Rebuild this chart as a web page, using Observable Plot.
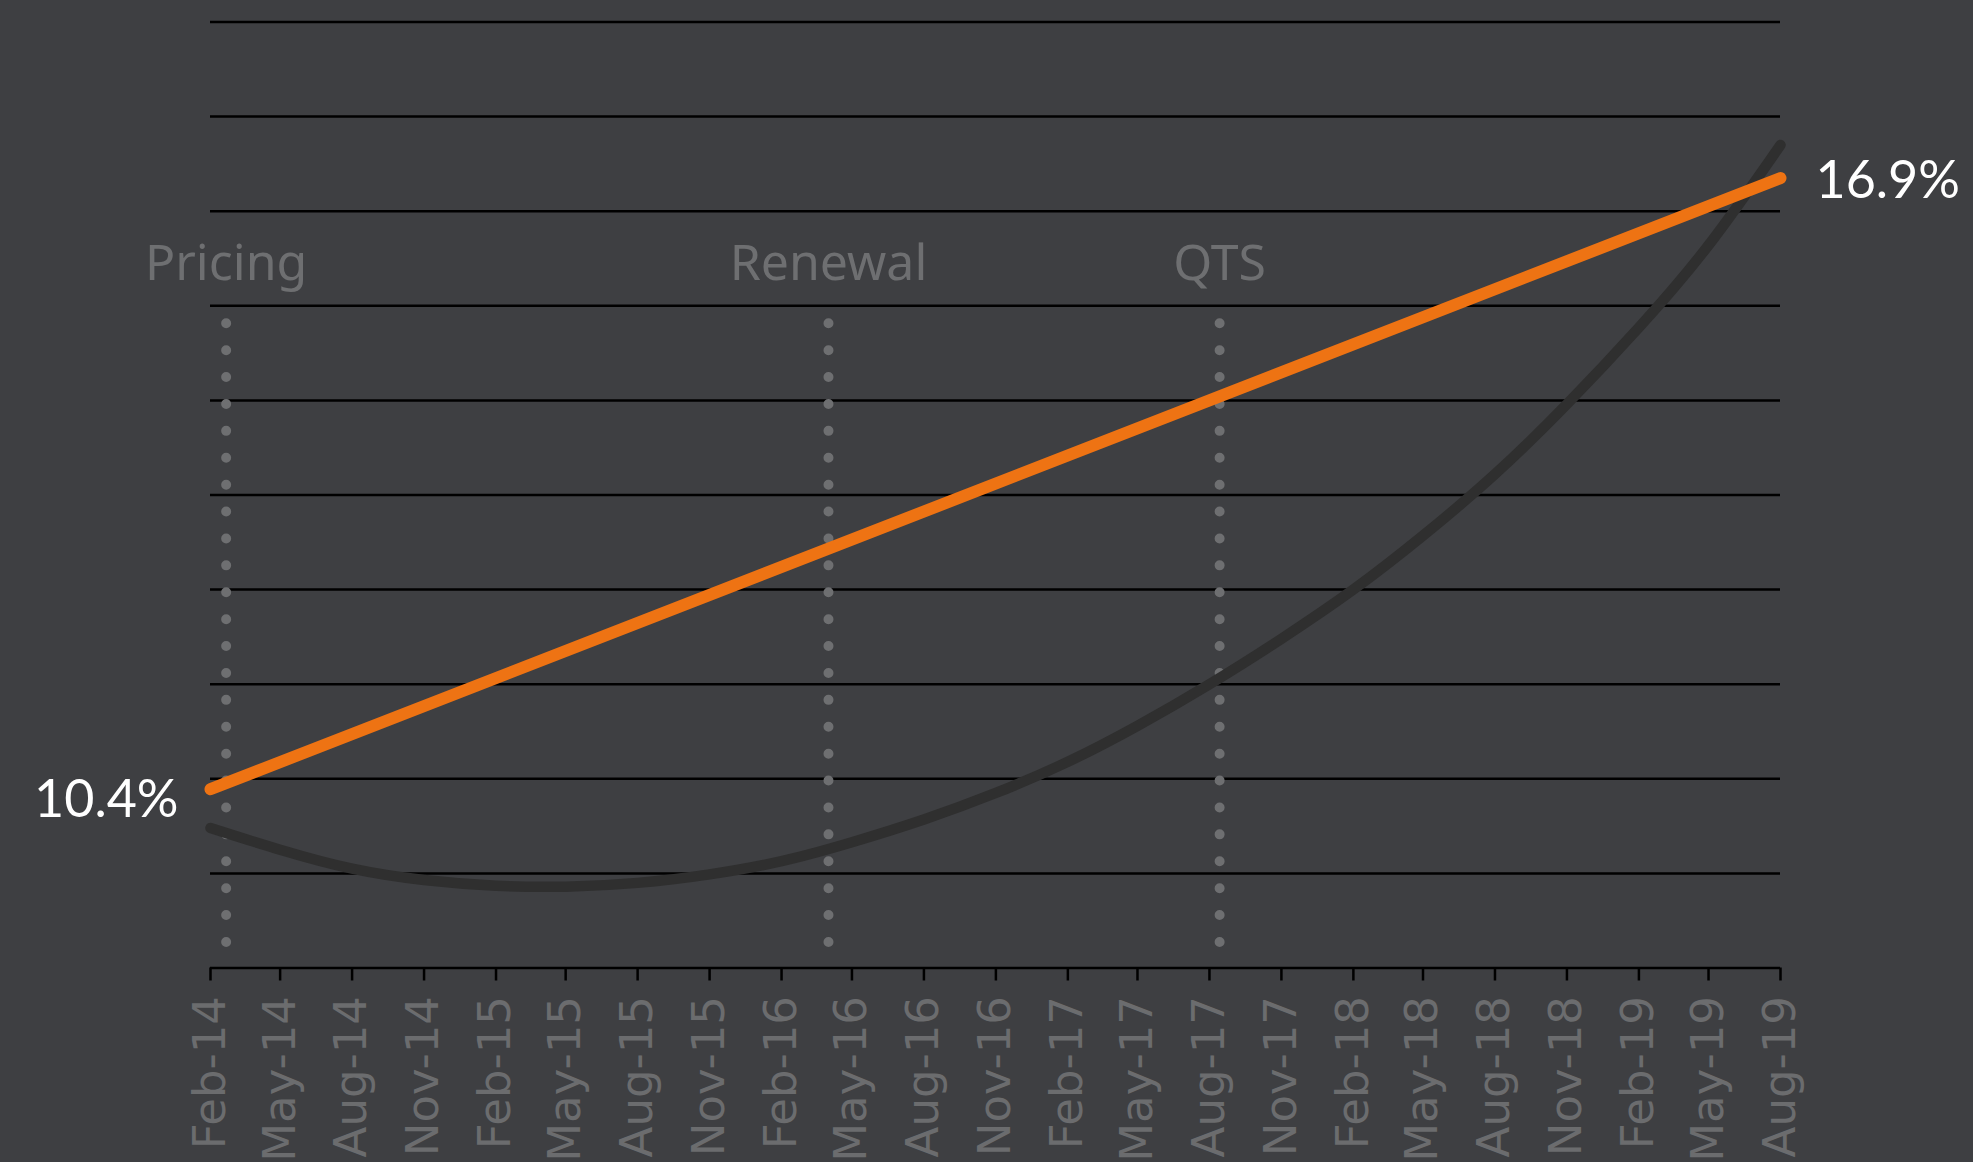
<!DOCTYPE html>
<html>
<head>
<meta charset="utf-8">
<script src="https://cdn.jsdelivr.net/npm/d3@7"></script>
<script src="https://cdn.jsdelivr.net/npm/@observablehq/plot@0.6"></script>
<style>
  html, body { margin: 0; padding: 0; background: #3e3f42; }
  #chart { width: 1973px; height: 1162px; }
</style>
</head>
<body>
<div id="chart"></div>
<script>
// ---- data ----
const quarterDates = [
  "2014-02-01","2014-05-01","2014-08-01","2014-11-01",
  "2015-02-01","2015-05-01","2015-08-01","2015-11-01",
  "2016-02-01","2016-05-01","2016-08-01","2016-11-01",
  "2017-02-01","2017-05-01","2017-08-01","2017-11-01",
  "2018-02-01","2018-05-01","2018-08-01","2018-11-01",
  "2019-02-01","2019-05-01","2019-08-01"
];
const trendValues = [
  9.98, 9.75, 9.55, 9.43, 9.37, 9.36, 9.40, 9.49,
  9.63, 9.83, 10.07, 10.35, 10.68, 11.06, 11.50, 11.98,
  12.50, 13.07, 13.72, 14.46, 15.27, 16.14, 17.20
];
const rateDates = ["2014-02-01", "2019-08-01"];
const rateValues = [10.39, 16.85];
const rateLabels = ["10.4%", "16.9%"];

const gridValues = [9.5, 10.5, 11.5, 12.5, 13.5, 14.5, 15.5, 16.5, 17.5, 18.5];
const yDomain = [8.5, 18.5];

const eventNames = ["Pricing", "Renewal", "QTS"];
const eventDates = ["2014-02-21", "2016-04-01", "2017-08-14"];
const eventSpan = [15.31, 8.76];

// ---- tables ----
const parse = d3.utcParse("%Y-%m-%d");
const ticks = quarterDates.map(parse);
const trend = quarterDates.map((d, i) => ({date: parse(d), value: trendValues[i]}));
const rate = rateDates.map((d, i) => ({date: parse(d), value: rateValues[i], label: rateLabels[i]}));
const events = eventNames.map((n, i) => ({name: n, date: parse(eventDates[i]), top: eventSpan[0], bottom: eventSpan[1]}));

const chart = Plot.plot({
  width: 1973,
  height: 1162,
  marginLeft: 210,
  marginRight: 193,
  marginTop: 21.5,
  marginBottom: 194.5,
  style: {background: "#3e3f42", overflow: "visible"},
  x: {type: "utc", domain: [ticks[0], ticks[ticks.length - 1]]},
  y: {domain: yDomain, axis: null},
  marks: [
    Plot.ruleY(gridValues, {stroke: "#000", strokeWidth: 2.5}),
    Plot.ruleY([yDomain[0]], {stroke: "#000", strokeWidth: 2.5}),
    Plot.axisX({ticks, tickSize: 13, tickFormat: () => "", stroke: "#000", strokeWidth: 2.5, strokeOpacity: 1, label: null}),
    Plot.axisX({ticks, tickSize: 0, tickPadding: 28, tickRotate: -90, tickFormat: d3.utcFormat("%b-%y"),
      fill: "#6b6c6e", fontSize: 45, fontFamily: "DejaVu Sans", label: null}),
    Plot.ruleX(events, {x: "date", y1: "top", y2: "bottom", stroke: "#6e6f71", strokeWidth: 10,
      strokeDasharray: "0 26.9", strokeLinecap: "round"}),
    Plot.text(events, {x: "date", y: "top", text: "name", dy: -60, fill: "#6e6f71",
      fontSize: 50, fontFamily: "Noto Sans", textAnchor: "middle"}),
    Plot.line(trend, {x: "date", y: "value", stroke: "#2f2f2f", strokeWidth: 10.5, curve: "natural", strokeLinecap: "round"}),
    Plot.line(rate, {x: "date", y: "value", stroke: "#ee7313", strokeWidth: 12, strokeLinecap: "round"}),
    Plot.text(rate, Plot.selectFirst({x: "date", y: "value", text: "label",
      textAnchor: "end", dx: -32, dy: 11, fill: "#ffffff", fontSize: 52, fontFamily: "Lato"})),
    Plot.text(rate, Plot.selectLast({x: "date", y: "value", text: "label",
      textAnchor: "start", dx: 35, dy: 3, fill: "#ffffff", fontSize: 52, fontFamily: "Lato"}))
  ]
});
document.getElementById("chart").appendChild(chart);
</script>
</body>
</html>
